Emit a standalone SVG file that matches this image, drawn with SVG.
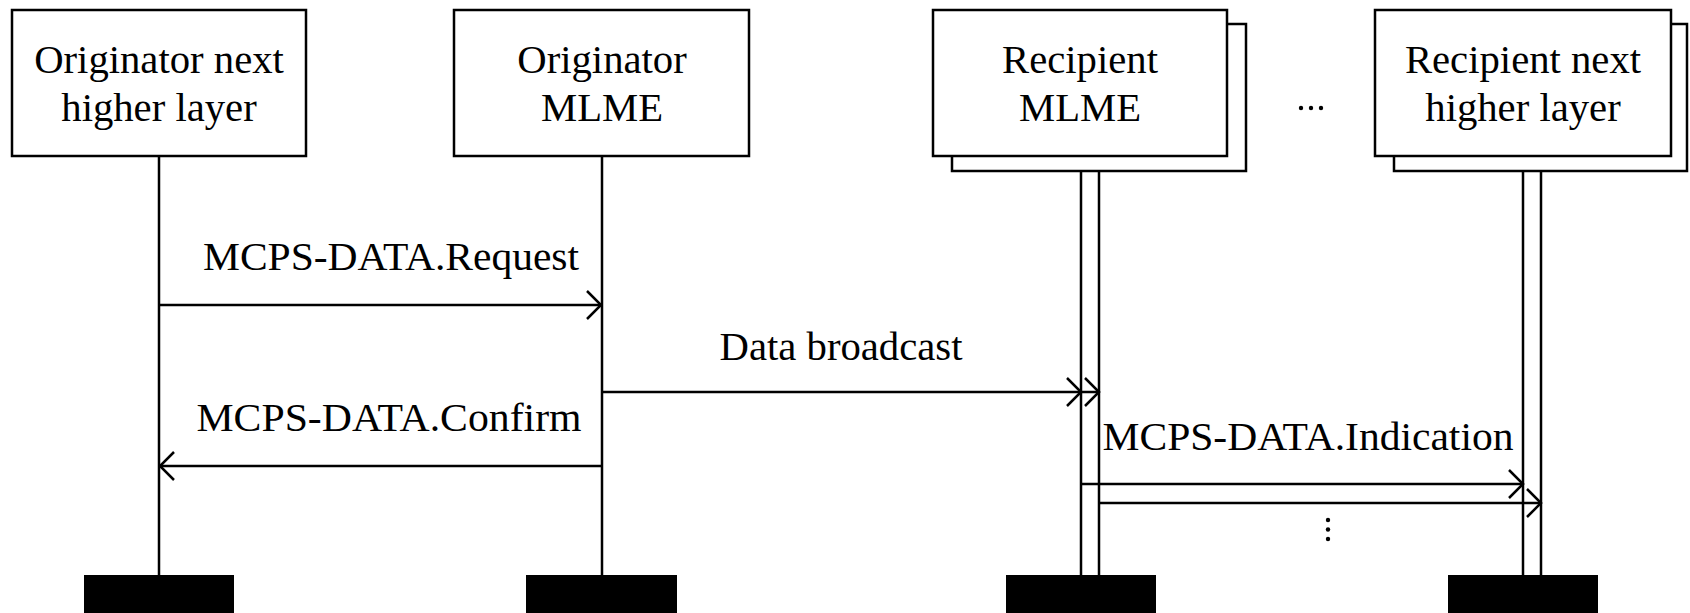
<svg xmlns="http://www.w3.org/2000/svg" width="1690" height="613" viewBox="0 0 1690 613" font-family="'Liberation Serif', 'Times New Roman', Times, serif">
<style>
.box{fill:#fff;stroke:#000;stroke-width:2.5}
.ll{stroke:#000;stroke-width:2.5;fill:none}
.msg{stroke:#000;stroke-width:2.5;fill:none}
.ah{stroke:#000;stroke-width:2.5;fill:none}
.bar{fill:#000}
.t{font-family:'Liberation Serif','Times New Roman',Times,serif;font-size:40.7px;fill:#000;text-anchor:middle}
</style>
<rect width="1690" height="613" fill="#fff"/>
<g id="lifelines">
<line class="ll" x1="159" y1="156" x2="159" y2="575"/>
<line class="ll" x1="602" y1="156" x2="602" y2="575"/>
<line class="ll" x1="1081" y1="156" x2="1081" y2="575"/>
<line class="ll" x1="1099" y1="171" x2="1099" y2="575"/>
<line class="ll" x1="1523" y1="156" x2="1523" y2="575"/>
<line class="ll" x1="1541" y1="171" x2="1541" y2="575"/>
</g>
<g id="node-orig-nhl">
<rect class="box" x="12" y="10" width="294" height="146"/>
<text class="t" x="159" y="73">Originator next</text>
<text class="t" x="159" y="121">higher layer</text>
<rect class="bar" x="84" y="575" width="150" height="38"/>
</g>
<g id="node-orig-mlme">
<rect class="box" x="454" y="10" width="295" height="146"/>
<text class="t" x="602" y="73">Originator</text>
<text class="t" x="602" y="121">MLME</text>
<rect class="bar" x="526" y="575" width="151" height="38"/>
</g>
<g id="node-rec-mlme">
<rect class="box" x="952" y="24" width="294" height="147"/>
<rect class="box" x="933" y="10" width="294" height="146"/>
<text class="t" x="1080" y="73">Recipient</text>
<text class="t" x="1080" y="121">MLME</text>
<rect class="bar" x="1006" y="575" width="150" height="38"/>
</g>
<g id="ellipsis">
<circle cx="1301" cy="108" r="2.2"/>
<circle cx="1311" cy="108" r="2.2"/>
<circle cx="1321" cy="108" r="2.2"/>
</g>
<g id="node-rec-nhl">
<rect class="box" x="1394" y="24" width="293" height="147"/>
<rect class="box" x="1375" y="10" width="296" height="146"/>
<text class="t" x="1523" y="73">Recipient next</text>
<text class="t" x="1523" y="121">higher layer</text>
<rect class="bar" x="1448" y="575" width="150" height="38"/>
</g>
<g id="connectors">
<line class="msg" x1="159" y1="305" x2="602" y2="305"/>
<polyline class="ah" points="587,291 601,305 587,319"/>
<text class="t" x="391" y="270" textLength="376" lengthAdjust="spacingAndGlyphs">MCPS-DATA.Request</text>
<line class="msg" x1="602" y1="392" x2="1099" y2="392"/>
<polyline class="ah" points="1067,378 1081,392 1067,406"/>
<polyline class="ah" points="1085,378 1099,392 1085,406"/>
<text class="t" x="841" y="360">Data broadcast</text>
<line class="msg" x1="602" y1="466" x2="159" y2="466"/>
<polyline class="ah" points="174,452 160,466 174,480"/>
<text class="t" x="389" y="431" textLength="385" lengthAdjust="spacingAndGlyphs">MCPS-DATA.Confirm</text>
<line class="msg" x1="1081" y1="484" x2="1523" y2="484"/>
<polyline class="ah" points="1509,470 1523,484 1509,498"/>
<line class="msg" x1="1099" y1="503" x2="1541" y2="503"/>
<polyline class="ah" points="1527,489 1541,503 1527,517"/>
<text class="t" x="1308" y="450" textLength="411" lengthAdjust="spacingAndGlyphs">MCPS-DATA.Indication</text>
<circle cx="1328" cy="520" r="2.2"/>
<circle cx="1328" cy="529.5" r="2.2"/>
<circle cx="1328" cy="539" r="2.2"/>
</g>
</svg>
